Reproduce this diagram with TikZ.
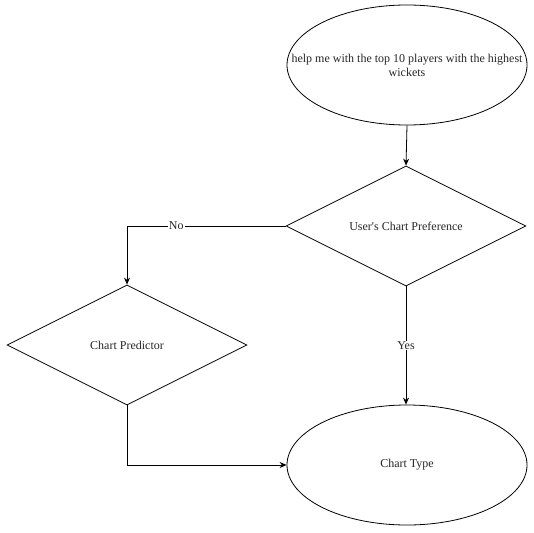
\documentclass[tikz,border=0pt]{standalone}
\usepackage{fontspec}
\setmainfont{Liberation Serif}
\usetikzlibrary{shapes.geometric,arrows.meta}
\begin{document}
\begin{tikzpicture}[x=1pt,y=-1pt,
  every node/.style={font=\fontsize{12}{14}\selectfont, text=black!85},
  ell/.style={draw, ellipse, minimum width=240pt, minimum height=120pt, inner sep=0pt, line width=0.8pt},
  dia/.style={draw, diamond, minimum width=240pt, minimum height=120pt, inner sep=0pt, aspect=2, line width=0.8pt},
  conn/.style={draw, line width=0.8pt, -{Stealth[length=7pt,width=6pt]}},
  lbl/.style={fill=white, inner sep=1pt}]
\useasboundingbox (0,0) rectangle (534,532);
\node[ell] (q) at (407,65) {};
\node[align=center, inner sep=0pt] (qtext) at (q.center) {help me with the top 10 players with the highest\\wickets};
\node[dia] (pref) at (406,226) {User\textquotesingle s Chart Preference};
\node[dia] (pred) at (127,345) {Chart Predictor};
\node[ell] (type) at (407,465) {Chart Type};
\coordinate (c1) at (127,226);
\coordinate (c2) at (127,465);
\draw[conn] (q.south) -- (pref.north);
\draw[conn] (pref.west) -- node[lbl, pos=0.69] {No} (c1) -- (pred.north);
\draw[conn] (pref.south) -- node[lbl, pos=0.5] {Yes} (pref.south |- type.north);
\draw[conn] (pred.south) -- (c2) -- (type.west);
\end{tikzpicture}
\end{document}
